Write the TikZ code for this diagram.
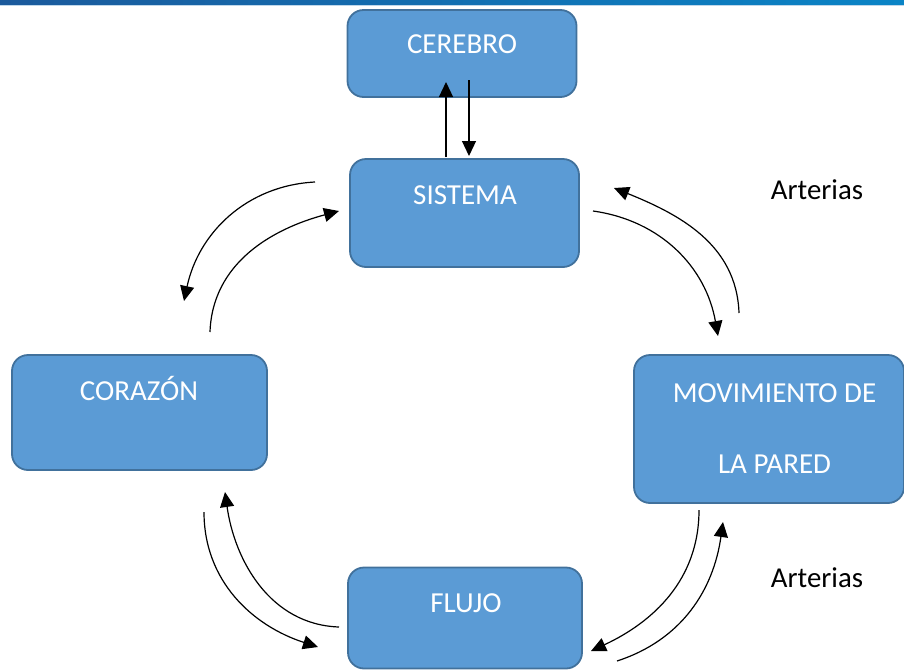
\documentclass[tikz,border=0pt]{standalone}
\usepackage{fontspec}
\setmainfont{Carlito}
\usetikzlibrary{arrows.meta}
\definecolor{boxfill}{HTML}{5B9BD5}
\definecolor{boxline}{HTML}{41719C}
\definecolor{barL}{HTML}{1B5A9C}
\definecolor{barR}{HTML}{0A84C6}
\definecolor{barLight}{HTML}{BFD7EA}
\tikzset{
  boxnode/.style={draw=boxline, fill=boxfill, line width=1.8pt, rounded corners=16pt, inner sep=0pt},
  boxtext/.style={text=white, font=\fontsize{29}{33}\selectfont, anchor=base, inner sep=0pt},
  plaintext/.style={text=black, font=\fontsize{28.8}{33}\selectfont, anchor=base, inner sep=0pt},
  arr/.style={line width=1.2pt, -{Triangle[length=15pt,width=14pt]}}
}
\begin{document}
\begin{tikzpicture}[x=1pt,y=1pt]
\useasboundingbox (0,0) rectangle (904,-670);
% top bar
\shade[left color=barL, right color=barR] (0,0) rectangle (904,-4.5);
\fill[barLight] (0,-4.5) rectangle (904,-6);
% boxes
\node[boxnode, minimum width=229pt, minimum height=87pt] (cerebro) at (462,-53.5) {};
\node[boxnode, minimum width=229pt, minimum height=108pt] (sistema) at (464.5,-213) {};
\node[boxnode, minimum width=255pt, minimum height=115pt] (corazon) at (139.5,-412.5) {};
\node[boxnode, minimum width=270pt, minimum height=148pt] (movim) at (769,-429) {};
\node[boxnode, minimum width=234pt, minimum height=101pt] (flujo) at (465,-618) {};
% texts
\node[boxtext] (tcerebro) at (462,-53) {CEREBRO};
\node[boxtext] (tsistema) at (465,-204) {SISTEMA};
\node[boxtext] (tcorazon) at (139,-400) {CORAZÓN};
\node[boxtext] (tmov1) at (774.5,-402) {MOVIMIENTO DE};
\node[boxtext] (tmov2) at (774.5,-473) {LA PARED};
\node[boxtext] (tflujo) at (466,-612) {FLUJO};
\node[plaintext] (art1) at (817,-199) {Arterias};
\node[plaintext] (art2) at (817,-587) {Arterias};
% arrow end coordinates
\coordinate (c1a) at (446,-157);
\coordinate (c1b) at (446,-82);
\coordinate (c2a) at (469,-80);
\coordinate (c2b) at (469,-156);
\coordinate (lt1a) at (315,-182);
\coordinate (lt1b) at (184,-301);
\coordinate (lt2a) at (210,-332);
\coordinate (lt2b) at (339,-211);
\coordinate (rt1a) at (593,-211);
\coordinate (rt1b) at (718,-336);
\coordinate (rt2a) at (739,-313);
\coordinate (rt2b) at (614,-188);
\coordinate (lb1a) at (204,-512);
\coordinate (lb1b) at (318,-647);
\coordinate (lb2a) at (339,-627);
\coordinate (lb2b) at (225,-492);
\coordinate (rb1a) at (699,-510);
\coordinate (rb1b) at (591,-651);
\coordinate (rb2a) at (617,-661);
\coordinate (rb2b) at (723,-522);
% arrows
\draw[arr] (c1a) -- (c1b);
\draw[arr] (c2a) -- (c2b);
\draw[arr] (lt1a) to[out=183, in=78] (lt1b);
\draw[arr] (lt2a) to[out=88, in=195] (lt2b);
\draw[arr] (rt1a) to[out=-8, in=100] (rt1b);
\draw[arr] (rt2a) to[out=92, in=-22] (rt2b);
\draw[arr] (lb1a) to[out=-90, in=162] (lb1b);
\draw[arr] (lb2a) to[out=178, in=-82] (lb2b);
\draw[arr] (rb1a) to[out=-90, in=25] (rb1b);
\draw[arr] (rb2a) to[out=18, in=-98] (rb2b);
\end{tikzpicture}
\end{document}
